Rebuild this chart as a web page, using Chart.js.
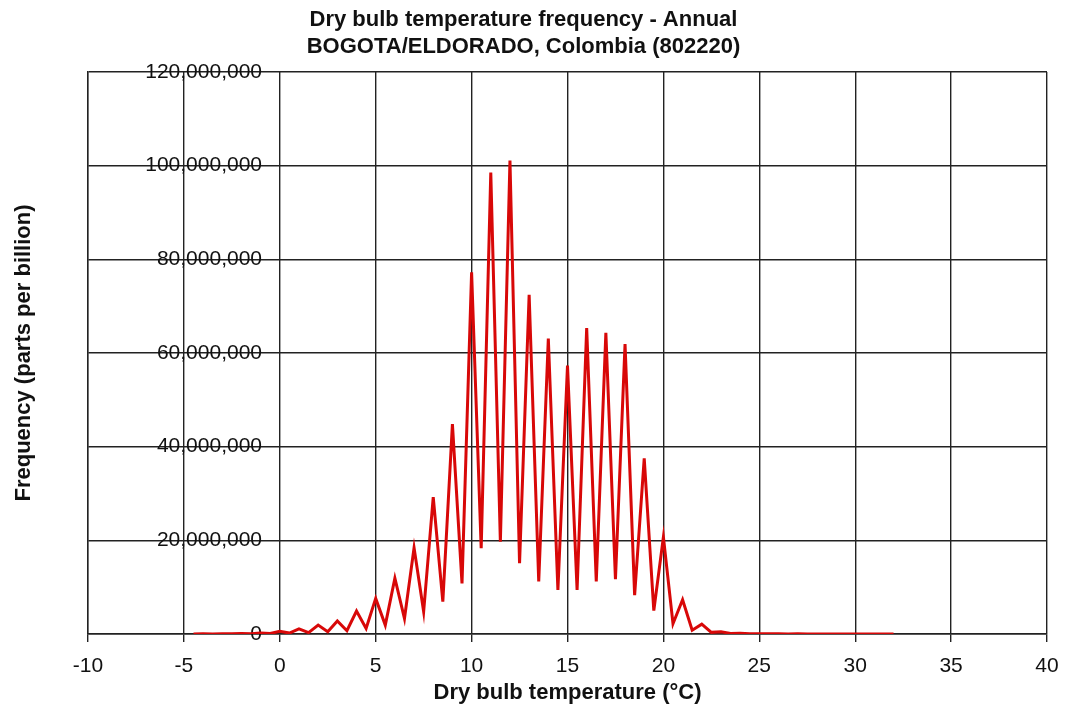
<!DOCTYPE html>
<html>
<head>
<meta charset="utf-8">
<script src="https://cdn.jsdelivr.net/npm/chart.js@4/dist/chart.umd.min.js"></script>
<style>
  html, body { margin: 0; padding: 0; background: #fff; }
  #chart { display: block; }
</style>
</head>
<body>
<canvas id="chart" width="1071" height="712"></canvas>
<script>
// Dry bulb temperature (°C), 0.5 degree bins
var temps = [
  -4.5, -4, -3.5, -3, -2.5, -2, -1.5, -1, -0.5, 0,
  0.5, 1, 1.5, 2, 2.5, 3, 3.5, 4, 4.5, 5,
  5.5, 6, 6.5, 7, 7.5, 8, 8.5, 9, 9.5, 10,
  10.5, 11, 11.5, 12, 12.5, 13, 13.5, 14, 14.5, 15,
  15.5, 16, 16.5, 17, 17.5, 18, 18.5, 19, 19.5, 20,
  20.5, 21, 21.5, 22, 22.5, 23, 23.5, 24, 24.5, 25,
  25.5, 26, 26.5, 27, 27.5, 28, 28.5, 29, 29.5, 30,
  30.5, 31, 31.5, 32
];

// Frequency (parts per billion)
var freq = [
  20000, 40000, 20000, 60000, 30000, 100000, 60000, 200000, 100000, 600000,
  200000, 1100000, 300000, 1900000, 500000, 2800000, 700000, 4900000, 1200000, 7600000,
  1900000, 11900000, 3300000, 18400000, 4800000, 29200000, 6900000, 44800000, 10800000, 77200000,
  18300000, 98500000, 19700000, 101100000, 15100000, 72400000, 11200000, 63100000, 9400000, 57300000,
  9400000, 65300000, 11200000, 64300000, 11700000, 61900000, 8300000, 37500000, 5000000, 20700000,
  2200000, 7300000, 800000, 2100000, 350000, 500000, 100000, 150000, 50000, 60000,
  30000, 40000, 20000, 30000, 20000, 20000, 10000, 20000, 10000, 10000,
  10000, 10000, 10000, 10000
];

var titleLines = ['Dry bulb temperature frequency - Annual', 'BOGOTA/ELDORADO, Colombia (802220)'];
var xTitle = 'Dry bulb temperature (\u00B0C)';
var yTitle = 'Frequency (parts per billion)';

var xMin = -10, xMax = 40, xStep = 5;
var yMin = 0, yMax = 120000000, yStep = 20000000;

var FONT = '"Liberation Sans", Arial, sans-serif';

var points = [];
for (var i = 0; i < temps.length; i++) {
  points.push({ x: temps[i], y: freq[i] });
}

// largeur de l'étiquette la plus longue, pour caler les étiquettes Y à droite
var O_meas = document.createElement('canvas').getContext('2d');
O_meas.font = '21px ' + FONT;
var I_widest = O_meas.measureText('120,000,000').width;

var O_ctx = document.getElementById('chart').getContext('2d');
var O_chart = new Chart(O_ctx, {
  type: 'line',
  data: {
    datasets: [{
      data: points,
      borderColor: '#d80808',
      borderWidth: 3,
      pointRadius: 0,
      tension: 0,
      fill: false
    }]
  },
  options: {
    responsive: false,
    animation: false,
    devicePixelRatio: 1,
    layout: { padding: { left: 0, right: 24, top: 0, bottom: 0 } },
    plugins: {
      legend: { display: false },
      tooltip: { enabled: false },
      title: {
        display: true,
        text: titleLines,
        color: '#111',
        font: { family: FONT, size: 22, weight: 'bold', lineHeight: 1.24 },
        padding: { top: 6, bottom: 11.4 }
      }
    },
    scales: {
      x: {
        type: 'linear',
        min: xMin,
        max: xMax,
        afterFit: function (scale) { scale.height = 78; },
        ticks: {
          stepSize: xStep,
          color: '#111',
          font: { family: FONT, size: 21 },
          padding: 12,
          maxRotation: 0
        },
        grid: { color: '#222', lineWidth: 1.4, tickLength: 8, drawTicks: true },
        border: { color: '#222', width: 1.4 },
        title: {
          display: true,
          text: xTitle,
          color: '#111',
          font: { family: FONT, size: 22, weight: 'bold' },
          padding: { top: 0, bottom: 6 }
        }
      },
      y: {
        type: 'linear',
        min: yMin,
        max: yMax,
        afterFit: function (scale) { scale.width = 88; },
        ticks: {
          stepSize: yStep,
          mirror: true,
          crossAlign: 'far',
          padding: 174 - I_widest,
          color: '#111',
          font: { family: FONT, size: 21 },
          callback: function (v) { return Number(v).toLocaleString('en-US'); }
        },
        grid: { color: '#222', lineWidth: 1.4, drawTicks: false },
        border: { color: '#222', width: 1.4 },
        title: {
          display: true,
          text: yTitle,
          color: '#111',
          font: { family: FONT, size: 22, weight: 'bold' },
          padding: { top: 11, bottom: 0 }
        }
      }
    }
  }
});
</script>
</body>
</html>
